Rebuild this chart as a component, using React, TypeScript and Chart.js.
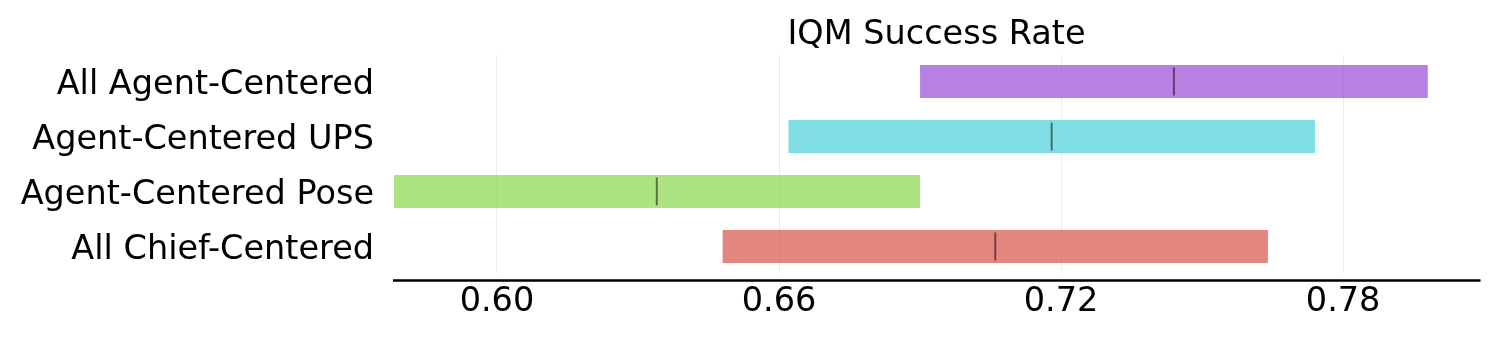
import React, { useEffect, useRef } from "react";
import { Chart, registerables } from "chart.js";

Chart.register(...registerables);

const categories = [
  "All Agent-Centered",
  "Agent-Centered UPS",
  "Agent-Centered Pose",
  "All Chief-Centered",
];
const lowerBounds = [0.69, 0.662, 0.578, 0.648];
const upperBounds = [0.798, 0.774, 0.69, 0.764];
const medians = [0.744, 0.718, 0.634, 0.706];
const barColors = [
  "rgba(161,86,219,0.75)",
  "rgba(86,212,219,0.75)",
  "rgba(146,219,86,0.75)",
  "rgba(219,94,86,0.75)",
];
const xTicks = [0.6, 0.66, 0.72, 0.78];
const xMin = 0.5781;
const xMax = 0.8089;
const title = "IQM Success Rate";

const FONT = "'DejaVu Sans', sans-serif";
const FS = 33.5;

const offsetAxisLine = {
  id: "offsetAxisLine",
  afterDraw(chart: any) {
    const { ctx, chartArea } = chart;
    ctx.save();
    ctx.strokeStyle = "#000";
    ctx.lineWidth = 2.5;
    ctx.beginPath();
    const y = chartArea.bottom + 7.5;
    ctx.moveTo(chartArea.left - 1, y);
    ctx.lineTo(chartArea.right + 1.5, y);
    ctx.stroke();
    ctx.restore();
  },
};

export default function App() {
  const ref = useRef<HTMLCanvasElement | null>(null);

  useEffect(() => {
    if (!ref.current) return;
    const chart = new Chart(ref.current, {
      type: "bar",
      data: {
        datasets: [
          {
            type: "bar",
            indexAxis: "y",
            data: categories.map((_, i) => ({ y: i, x: [lowerBounds[i], upperBounds[i]] })) as any,
            backgroundColor: barColors,
            borderWidth: 0,
            categoryPercentage: 0.6,
            barPercentage: 1,
            order: 2,
          } as any,
          {
            type: "scatter",
            data: categories.map((_, i) => ({ x: medians[i], y: i })),
            pointStyle: "line",
            radius: 14,
            rotation: 90,
            borderWidth: 2,
            borderColor: "rgba(0,0,0,0.5)",
            backgroundColor: "rgba(0,0,0,0.5)",
            order: 1,
          } as any,
        ],
      },
      options: {
        responsive: false,
        animation: false,
        indexAxis: "y",
        layout: { padding: { left: 0, right: 21, top: 0, bottom: 0 } },
        plugins: {
          legend: { display: false },
          tooltip: { enabled: false },
          title: {
            display: true,
            text: title,
            fullSize: false,
            color: "#000",
            font: { family: FONT, size: FS, weight: "normal" },
            padding: { top: 15, bottom: 0 },
          },
        },
        scales: {
          x: {
            type: "linear",
            position: "bottom",
            min: xMin,
            max: xMax,
            offset: false,
            afterBuildTicks: (scale: any) => {
              scale.ticks = xTicks.map((v) => ({ value: v }));
            },
            afterFit: (scale: any) => {
              scale.height = 67;
            },
            ticks: {
              color: "#000",
              font: { family: FONT, size: FS },
              padding: 9,
              callback: (v: any) => Number(v).toFixed(2),
            },
            grid: { color: "#ebebeb", lineWidth: 1, drawTicks: false },
            border: { display: false },
          },
          y: {
            type: "linear",
            reverse: true,
            offset: false,
            min: -0.48,
            max: 3.48,
            afterBuildTicks: (scale: any) => {
              scale.ticks = categories.map((_, i) => ({ value: i }));
            },
            afterFit: (scale: any) => {
              scale.width = 394;
            },
            ticks: {
              color: "#000",
              font: { family: FONT, size: FS },
              padding: 20,
              labelOffset: 3.5,
              callback: (v: any) => categories[Math.round(Number(v))] ?? "",
            },
            grid: { display: false, drawTicks: false },
            border: { display: false },
          },
        },
      } as any,
      plugins: [offsetAxisLine],
    });
    return () => chart.destroy();
  }, []);

  return (
    <div style={{ position: "absolute", left: 0, top: 0, width: 1500, height: 340, background: "#fff" }}>
      <canvas ref={ref} width={1500} height={340} style={{ display: "block" }} />
    </div>
  );
}
